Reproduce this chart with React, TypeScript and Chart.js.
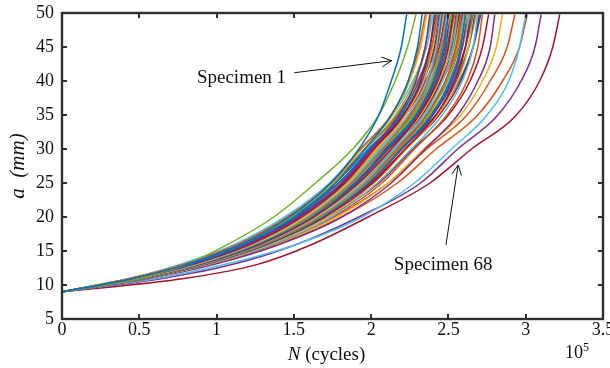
import React, { useEffect, useRef } from "react";
import { Chart, registerables } from "chart.js";

Chart.register(...registerables);

const SERIF = "'Liberation Serif', 'Times New Roman', serif";

// crack length a (mm) at which each specimen's cycle count was read
const CRACK_LENGTH_MM = [9, 11, 13, 16, 20, 25, 30, 35, 40, 45, 49.8];

// N (cycles, in units of 10^5) reached at each crack length above, one row per specimen
const SPECIMEN_CYCLES_1E5: number[][] = [
  [0, 0.47, 0.80, 1.16, 1.47, 1.74, 1.92, 2.05, 2.13, 2.195, 2.23], // specimen 1
  [0, 0.50, 0.80, 1.075, 1.37, 1.64, 1.88, 2.05, 2.155, 2.235, 2.29],
  [0, 0.48, 0.82, 1.18, 1.50, 1.77, 1.96, 2.13, 2.24, 2.30, 2.33],
  [0, 0.45, 0.78, 1.14, 1.46, 1.74, 1.93, 2.13, 2.24, 2.31, 2.35],
  [0, 0.46, 0.79, 1.15, 1.47, 1.75, 1.94, 2.14, 2.25, 2.32, 2.36],
  [0, 0.49, 0.83, 1.20, 1.54, 1.81, 2.00, 2.18, 2.29, 2.35, 2.38],
  [0, 0.46, 0.80, 1.16, 1.49, 1.77, 1.96, 2.16, 2.28, 2.35, 2.39],
  [0, 0.44, 0.76, 1.12, 1.44, 1.73, 1.93, 2.14, 2.27, 2.36, 2.40],
  [0, 0.49, 0.84, 1.22, 1.55, 1.83, 2.02, 2.21, 2.32, 2.38, 2.41],
  [0, 0.47, 0.81, 1.17, 1.51, 1.79, 1.99, 2.19, 2.31, 2.38, 2.42],
  [0, 0.44, 0.77, 1.13, 1.46, 1.75, 1.96, 2.17, 2.30, 2.39, 2.43],
  [0, 0.50, 0.85, 1.23, 1.57, 1.85, 2.04, 2.22, 2.34, 2.40, 2.43],
  [0, 0.47, 0.81, 1.18, 1.52, 1.81, 2.01, 2.21, 2.33, 2.40, 2.44],
  [0, 0.45, 0.78, 1.13, 1.46, 1.76, 1.96, 2.18, 2.31, 2.40, 2.44],
  [0, 0.50, 0.86, 1.24, 1.58, 1.86, 2.06, 2.24, 2.36, 2.42, 2.45],
  [0, 0.47, 0.82, 1.19, 1.53, 1.82, 2.01, 2.22, 2.34, 2.41, 2.45],
  [0, 0.45, 0.78, 1.14, 1.48, 1.77, 1.98, 2.20, 2.33, 2.42, 2.46],
  [0, 0.50, 0.86, 1.24, 1.59, 1.87, 2.07, 2.25, 2.37, 2.43, 2.46],
  [0, 0.48, 0.82, 1.20, 1.54, 1.83, 2.03, 2.24, 2.36, 2.43, 2.47],
  [0, 0.45, 0.79, 1.15, 1.49, 1.79, 2.00, 2.21, 2.35, 2.44, 2.48],
  [0, 0.51, 0.87, 1.25, 1.60, 1.88, 2.08, 2.27, 2.39, 2.45, 2.48],
  [0, 0.48, 0.83, 1.21, 1.55, 1.85, 2.05, 2.25, 2.38, 2.45, 2.49],
  [0, 0.46, 0.79, 1.16, 1.49, 1.79, 2.00, 2.22, 2.36, 2.45, 2.49],
  [0, 0.51, 0.88, 1.26, 1.61, 1.90, 2.10, 2.29, 2.40, 2.47, 2.50],
  [0, 0.48, 0.84, 1.21, 1.56, 1.85, 2.06, 2.26, 2.39, 2.46, 2.50],
  [0, 0.46, 0.80, 1.17, 1.51, 1.81, 2.02, 2.24, 2.38, 2.46, 2.51],
  [0, 0.51, 0.88, 1.27, 1.62, 1.91, 2.11, 2.30, 2.41, 2.48, 2.51],
  [0, 0.49, 0.84, 1.22, 1.57, 1.87, 2.07, 2.28, 2.41, 2.48, 2.52],
  [0, 0.46, 0.80, 1.17, 1.51, 1.81, 2.03, 2.25, 2.39, 2.47, 2.52],
  [0, 0.52, 0.89, 1.28, 1.63, 1.92, 2.13, 2.31, 2.43, 2.50, 2.53],
  [0, 0.49, 0.85, 1.23, 1.58, 1.87, 2.08, 2.29, 2.42, 2.49, 2.53],
  [0, 0.46, 0.81, 1.18, 1.52, 1.83, 2.04, 2.27, 2.41, 2.49, 2.54],
  [0, 0.52, 0.89, 1.28, 1.64, 1.93, 2.13, 2.32, 2.44, 2.51, 2.54],
  [0, 0.49, 0.85, 1.24, 1.59, 1.89, 2.10, 2.31, 2.44, 2.51, 2.55],
  [0, 0.47, 0.81, 1.19, 1.54, 1.84, 2.06, 2.29, 2.42, 2.51, 2.56],
  [0, 0.52, 0.90, 1.29, 1.65, 1.95, 2.15, 2.34, 2.46, 2.53, 2.56],
  [0, 0.50, 0.86, 1.25, 1.60, 1.90, 2.11, 2.33, 2.45, 2.53, 2.57],
  [0, 0.47, 0.82, 1.20, 1.54, 1.85, 2.07, 2.30, 2.43, 2.52, 2.57],
  [0, 0.53, 0.90, 1.30, 1.66, 1.96, 2.17, 2.36, 2.48, 2.55, 2.58],
  [0, 0.50, 0.86, 1.25, 1.61, 1.91, 2.12, 2.33, 2.46, 2.54, 2.58],
  [0, 0.47, 0.82, 1.20, 1.55, 1.86, 2.08, 2.31, 2.45, 2.54, 2.59],
  [0, 0.53, 0.91, 1.31, 1.67, 1.97, 2.18, 2.37, 2.49, 2.56, 2.59],
  [0, 0.50, 0.87, 1.26, 1.62, 1.93, 2.14, 2.35, 2.48, 2.56, 2.60],
  [0, 0.48, 0.83, 1.21, 1.56, 1.87, 2.09, 2.32, 2.46, 2.55, 2.60],
  [0, 0.54, 0.91, 1.32, 1.68, 1.98, 2.19, 2.39, 2.51, 2.58, 2.61],
  [0, 0.50, 0.87, 1.27, 1.63, 1.93, 2.15, 2.36, 2.49, 2.57, 2.61],
  [0, 0.48, 0.83, 1.22, 1.57, 1.89, 2.11, 2.34, 2.48, 2.57, 2.62],
  [0, 0.54, 0.92, 1.32, 1.69, 1.99, 2.20, 2.40, 2.52, 2.59, 2.62],
  [0, 0.51, 0.88, 1.28, 1.64, 1.95, 2.16, 2.38, 2.51, 2.59, 2.63],
  [0, 0.48, 0.84, 1.23, 1.58, 1.90, 2.13, 2.36, 2.50, 2.59, 2.64],
  [0, 0.54, 0.92, 1.33, 1.70, 2.01, 2.22, 2.42, 2.54, 2.61, 2.64],
  [0, 0.51, 0.89, 1.29, 1.65, 1.96, 2.18, 2.40, 2.53, 2.61, 2.65],
  [0, 0.49, 0.85, 1.24, 1.60, 1.92, 2.14, 2.38, 2.52, 2.61, 2.66],
  [0, 0.55, 0.93, 1.34, 1.72, 2.02, 2.23, 2.43, 2.56, 2.63, 2.66],
  [0, 0.52, 0.89, 1.30, 1.66, 1.98, 2.19, 2.42, 2.55, 2.63, 2.67],
  [0, 0.49, 0.85, 1.25, 1.61, 1.93, 2.16, 2.39, 2.54, 2.63, 2.68],
  [0, 0.55, 0.94, 1.36, 1.74, 2.04, 2.26, 2.46, 2.59, 2.66, 2.69],
  [0, 0.52, 0.90, 1.31, 1.68, 2.00, 2.22, 2.44, 2.58, 2.66, 2.70],
  [0, 0.50, 0.86, 1.26, 1.63, 1.95, 2.18, 2.42, 2.57, 2.66, 2.71],
  [0, 0.56, 0.95, 1.37, 1.75, 2.07, 2.28, 2.49, 2.62, 2.69, 2.72],
  [0, 0.53, 0.92, 1.34, 1.72, 2.05, 2.27, 2.50, 2.64, 2.72, 2.76],
  [0, 0.57, 0.98, 1.41, 1.81, 2.13, 2.35, 2.56, 2.69, 2.77, 2.80],
  [0, 0.55, 0.95, 1.38, 1.78, 2.11, 2.34, 2.58, 2.72, 2.81, 2.85],
  [0, 0.54, 0.93, 1.36, 1.76, 2.11, 2.36, 2.62, 2.77, 2.88, 2.93],
  [0, 0.62, 1.05, 1.52, 1.94, 2.28, 2.52, 2.75, 2.89, 2.96, 3.00],
  [0, 0.55, 0.96, 1.40, 1.81, 2.17, 2.42, 2.69, 2.85, 2.96, 3.01],
  [0, 0.66, 1.10, 1.52, 1.92, 2.32, 2.56, 2.82, 2.97, 3.06, 3.10],
  [0, 0.80, 1.26, 1.62, 1.98, 2.38, 2.65, 2.94, 3.09, 3.175, 3.22], // specimen 68
];

// MATLAB default line colours
const PALETTE = ["#0072BD", "#D95319", "#EDB120", "#7E2F8E", "#77AC30", "#4DBEEE", "#A2142F"];
const SPECIMEN_COLOR = [
  0, 4,
  0, 1, 2, 3, 4, 5, 6, 0, 1, 2, 3, 4, 5, 6, 0, 1, 2, 3, 4, 5, 6, 0, 1, 2, 3, 4, 5, 6,
  0, 1, 2, 3, 4, 5, 6, 0, 1, 2, 3, 4, 5, 6, 0, 1, 2, 3, 4, 5, 6, 0, 1, 2, 3, 4, 5, 6,
  0, 1,
  6, 3, 2, 1, 5, 1, 3, 6,
];

const X_RANGE = [0, 3.5];
const X_STEP = 0.5;
const Y_RANGE = [5, 50];
const Y_STEP = 5;

// annotations: label anchor and arrow (from -> to) in data coordinates
const ANNOTATION_TEXT = ["Specimen 1", "Specimen 68"];
const ANNOTATION_TEXT_AT = [[0.873, 39.7], [2.147, 12.2]];
const ANNOTATION_ARROW_FROM = [[1.503, 41.22], [2.484, 15.88]];
const ANNOTATION_ARROW_TO = [[2.133, 42.99], [2.563, 27.65]];

const decorPlugin = {
  id: "decor",
  afterDraw(chart: any) {
    const { ctx, chartArea: ca, scales } = chart;
    const xs = scales.x;
    const ys = scales.y;
    ctx.save();

    // frame
    ctx.strokeStyle = "#2e2e2e";
    ctx.lineWidth = 2.4;
    ctx.strokeRect(ca.left, ca.top, ca.right - ca.left, ca.bottom - ca.top);

    // inward ticks on all four sides
    ctx.lineWidth = 2;
    const L = 5;
    ctx.beginPath();
    xs.ticks.forEach((t: any) => {
      const px = Math.round(xs.getPixelForValue(t.value));
      ctx.moveTo(px, ca.bottom);
      ctx.lineTo(px, ca.bottom - L);
      ctx.moveTo(px, ca.top);
      ctx.lineTo(px, ca.top + L);
    });
    ys.ticks.forEach((t: any) => {
      const py = Math.round(ys.getPixelForValue(t.value));
      ctx.moveTo(ca.left, py);
      ctx.lineTo(ca.left + L, py);
      ctx.moveTo(ca.right, py);
      ctx.lineTo(ca.right - L, py);
    });
    ctx.stroke();

    // annotations
    ctx.fillStyle = "#111";
    ctx.strokeStyle = "#111";
    ctx.lineWidth = 1;
    ctx.font = `19px ${SERIF}`;
    ctx.textAlign = "left";
    ctx.textBaseline = "alphabetic";
    ANNOTATION_TEXT.forEach((txt, i) => {
      const tx = xs.getPixelForValue(ANNOTATION_TEXT_AT[i][0]);
      const ty = ys.getPixelForValue(ANNOTATION_TEXT_AT[i][1]);
      ctx.fillText(txt, tx, ty);
      const x1 = xs.getPixelForValue(ANNOTATION_ARROW_FROM[i][0]);
      const y1 = ys.getPixelForValue(ANNOTATION_ARROW_FROM[i][1]);
      const x2 = xs.getPixelForValue(ANNOTATION_ARROW_TO[i][0]);
      const y2 = ys.getPixelForValue(ANNOTATION_ARROW_TO[i][1]);
      const ang = Math.atan2(y2 - y1, x2 - x1);
      const head = 11;
      const spread = 0.45;
      ctx.beginPath();
      ctx.moveTo(x1, y1);
      ctx.lineTo(x2, y2);
      ctx.moveTo(x2 - head * Math.cos(ang - spread), y2 - head * Math.sin(ang - spread));
      ctx.lineTo(x2, y2);
      ctx.lineTo(x2 - head * Math.cos(ang + spread), y2 - head * Math.sin(ang + spread));
      ctx.stroke();
    });

    // x-axis title: italic N + (cycles)
    const cx = (ca.left + ca.right) / 2 - 6;
    ctx.font = `italic 19px ${SERIF}`;
    const wN = ctx.measureText("N").width;
    ctx.font = `19px ${SERIF}`;
    const wRest = ctx.measureText(" (cycles)").width;
    const x0 = cx - (wN + wRest) / 2;
    const by = ca.bottom + 41;
    ctx.font = `italic 19px ${SERIF}`;
    ctx.fillText("N", x0, by);
    ctx.font = `19px ${SERIF}`;
    ctx.fillText(" (cycles)", x0 + wN, by);

    // exponent label 10^5
    ctx.font = `18px ${SERIF}`;
    const w10 = ctx.measureText("10").width;
    const ex = ca.right - 38;
    ctx.fillText("10", ex, by - 2);
    ctx.font = `12px ${SERIF}`;
    ctx.fillText("5", ex + w10, by - 9);

    // y-axis title
    ctx.translate(18, (ca.top + ca.bottom) / 2);
    ctx.rotate(-Math.PI / 2);
    ctx.textAlign = "center";
    ctx.textBaseline = "middle";
    ctx.font = `italic 21px ${SERIF}`;
    ctx.fillText("a  (mm)", 0, 0);

    ctx.restore();
  },
};

const fmt = (v: any) => String(Math.round(Number(v) * 10) / 10);

export default function App() {
  const ref = useRef<HTMLCanvasElement>(null);

  useEffect(() => {
    document.body.style.margin = "0";
    const canvas = ref.current;
    if (!canvas) return;
    const datasets = SPECIMEN_CYCLES_1E5.map((cyc, i) => ({
      label: `Specimen ${i + 1}`,
      data: cyc.map((n, k) => ({ x: n, y: CRACK_LENGTH_MM[k] })),
      borderColor: PALETTE[SPECIMEN_COLOR[i]],
      backgroundColor: PALETTE[SPECIMEN_COLOR[i]],
      borderWidth: 1.5,
      pointRadius: 0,
      fill: false,
      cubicInterpolationMode: "monotone" as const,
    }));

    const tickFont = { family: SERIF, size: 18, lineHeight: 1 };

    const chart = new Chart(canvas, {
      type: "line",
      data: { datasets },
      options: {
        responsive: false,
        animation: false,
        layout: { padding: { left: 0, right: 7, top: 13, bottom: 0 } },
        plugins: {
          legend: { display: false },
          tooltip: { enabled: false },
        },
        scales: {
          x: {
            type: "linear",
            min: X_RANGE[0],
            max: X_RANGE[1],
            grid: { display: false, drawTicks: false },
            border: { display: false },
            ticks: {
              stepSize: X_STEP,
              font: tickFont,
              color: "#111",
              padding: 2,
              maxRotation: 0,
              autoSkip: false,
              callback: fmt,
            },
            afterFit: (s: any) => {
              s.height = 49;
              s.paddingLeft = 0;
              s.paddingRight = 0;
            },
          },
          y: {
            type: "linear",
            min: Y_RANGE[0],
            max: Y_RANGE[1],
            grid: { display: false, drawTicks: false },
            border: { display: false },
            ticks: {
              stepSize: Y_STEP,
              font: tickFont,
              color: "#111",
              padding: 8,
              autoSkip: false,
              callback: fmt,
            },
            afterFit: (s: any) => {
              s.width = 62;
              s.paddingTop = 0;
              s.paddingBottom = 0;
            },
          },
        },
      },
      plugins: [decorPlugin],
    });

    return () => chart.destroy();
  }, []);

  return (
    <div style={{ width: 610, height: 368 }}>
      <canvas ref={ref} width={610} height={368} style={{ display: "block" }} />
    </div>
  );
}
